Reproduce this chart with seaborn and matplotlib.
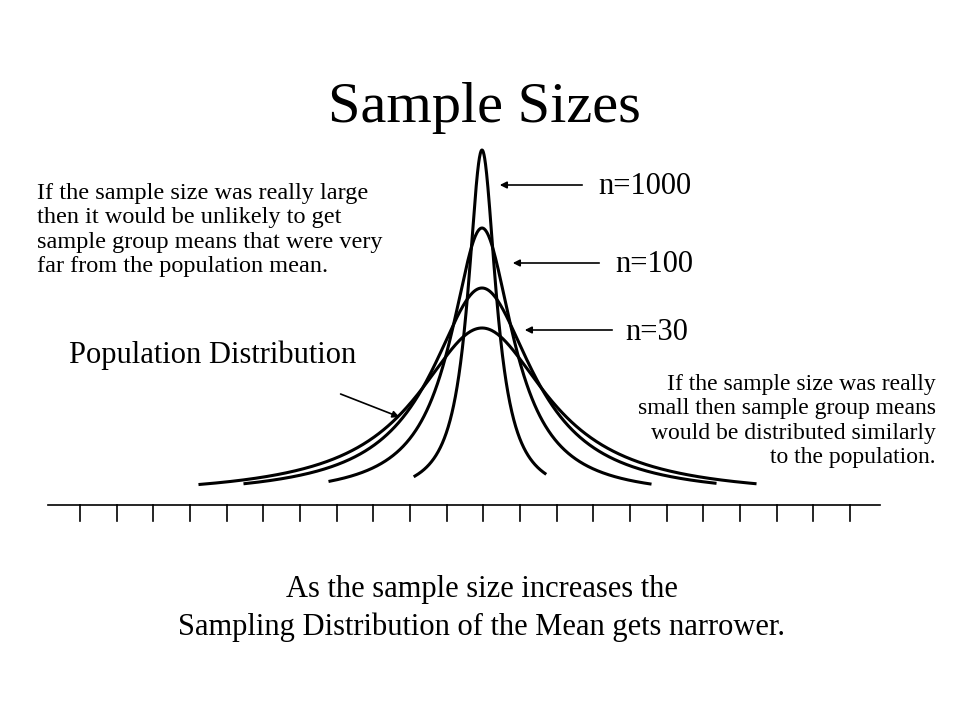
import numpy as np
import matplotlib
matplotlib.use("Agg")
import matplotlib.pyplot as plt
import seaborn as sns
import pandas as pd

# curve parameters (pixel-like canvas units): label, peak y, scale, left end, right end
labels = ["Population", "n=30", "n=100", "n=1000"]
peaks = [328, 288, 228, 150]
scales = [80, 62, 38, 17]
lefts = [200, 245, 330, 415]
rights = [755, 715, 650, 545]
center = 482
base = 497
tick_x = [80, 117, 153, 190, 227, 263, 300, 337, 373, 410, 447, 483, 520,
          557, 593, 630, 667, 703, 740, 777, 813, 850]

plt.rcParams["font.family"] = "Liberation Serif"
fig = plt.figure(figsize=(9.6, 7.2), dpi=100)
ax = fig.add_axes([0, 0, 1, 1])

rows = []
for lab, p, s, l, r in zip(labels, peaks, scales, lefts, rights):
    xs = np.linspace(l, r, 600)
    h = base - p
    ys = base - h / (1 + ((xs - center) / s) ** 2)
    rows.append(pd.DataFrame({"x": xs, "y": ys, "curve": lab}))
df = pd.concat(rows)
sns.lineplot(data=df, x="x", y="y", units="curve", estimator=None, color="black",
             lw=2.2, sort=False, ax=ax, legend=False)
ax.set_xlim(0, 960); ax.set_ylim(720, 0); ax.axis("off")

ax.plot([48, 880], [505, 505], color="black", lw=1.2)
for tx in tick_x:
    ax.plot([tx, tx], [505, 521], color="black", lw=1.2)

ax.text(484, 108, "Sample Sizes", fontsize=42, ha="center", va="center")
ax.text(37, 230, "If the sample size was really large\nthen it would be unlikely to get\nsample group means that were very\nfar from the population mean.",
        fontsize=17.5, ha="left", va="center", linespacing=1.2)
ax.text(936, 421, "If the sample size was really\nsmall then sample group means\nwould be distributed similarly\nto the population.",
        fontsize=17, ha="right", va="center", linespacing=1.2)
ax.text(213, 355, "Population Distribution", fontsize=22, ha="center", va="center")
ax.text(598, 187, "n=1000", fontsize=22, ha="left", va="center")
ax.text(615, 265, "n=100", fontsize=22, ha="left", va="center")
ax.text(625, 332, "n=30", fontsize=22, ha="left", va="center")
arr = dict(arrowstyle="-|>", color="black", lw=1.2, mutation_scale=10)
ax.annotate("", xy=(497, 185), xytext=(585, 185), arrowprops=arr)
ax.annotate("", xy=(510, 263), xytext=(602, 263), arrowprops=arr)
ax.annotate("", xy=(522, 330), xytext=(615, 330), arrowprops=arr)
ax.annotate("", xy=(402, 418), xytext=(338, 393), arrowprops=arr)
ax.text(482, 590, "As the sample size increases the", fontsize=22, ha="center", va="center")
ax.text(482, 627, "Sampling Distribution of the Mean gets narrower.", fontsize=22, ha="center", va="center")
fig.savefig("out.png", dpi=100)
